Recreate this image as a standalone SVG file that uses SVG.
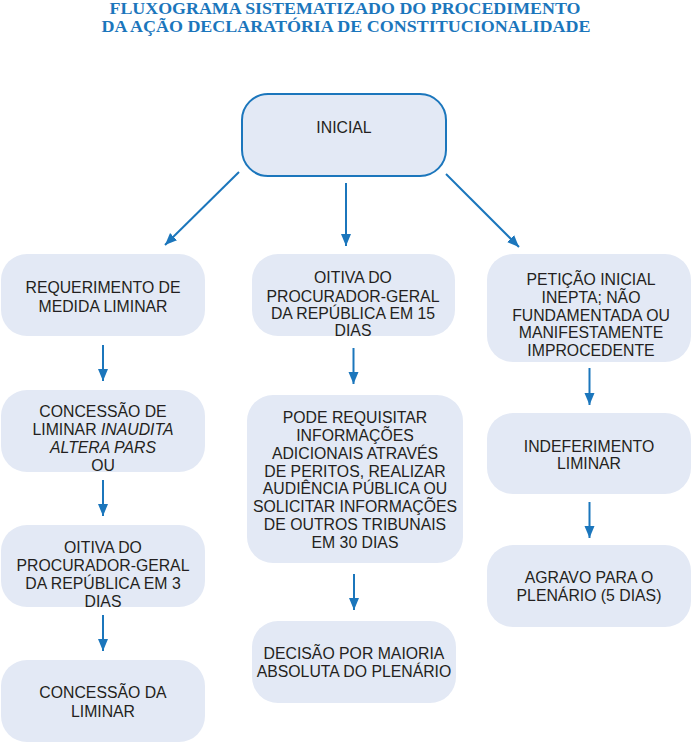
<svg xmlns="http://www.w3.org/2000/svg" width="692" height="742" viewBox="0 0 692 742">
<style>
.title{font-family:"Liberation Serif","Times New Roman",serif;font-weight:bold;font-size:16.5px;fill:#1b76bc;text-anchor:middle}
.box{fill:#e3e9f5}
.start{fill:#e3e9f5;stroke:#1b76bc;stroke-width:2}
.t{font-family:"Liberation Sans",Arial,sans-serif;font-size:15.8px;fill:#231f20;text-anchor:middle}
.c{stroke:#1b76bc;stroke-width:2;fill:none;marker-end:url(#ah)}
</style>
<defs>
<marker id="ah" markerUnits="userSpaceOnUse" markerWidth="12" markerHeight="12" refX="12" refY="5" orient="auto">
<path d="M0,0 L12,5 L0,10 Z" fill="#1b76bc"/>
</marker>
</defs>
<g id="title">
<text class="title" x="345" y="13.5" textLength="471" lengthAdjust="spacingAndGlyphs">FLUXOGRAMA SISTEMATIZADO DO PROCEDIMENTO</text>
<text class="title" x="346" y="32" textLength="489" lengthAdjust="spacingAndGlyphs">DA AÇÃO DECLARATÓRIA DE CONSTITUCIONALIDADE</text>
</g>
<g id="connectors">
<line class="c" x1="239" y1="172" x2="165" y2="245"/>
<line class="c" x1="346" y1="183" x2="346" y2="246"/>
<line class="c" x1="446" y1="174" x2="519" y2="247"/>
<line class="c" x1="103" y1="345" x2="103" y2="381"/>
<line class="c" x1="103" y1="480" x2="103" y2="516"/>
<line class="c" x1="103" y1="615" x2="103" y2="651"/>
<line class="c" x1="353.5" y1="348" x2="353.5" y2="384"/>
<line class="c" x1="354" y1="574" x2="354" y2="610"/>
<line class="c" x1="589.5" y1="368" x2="589.5" y2="405"/>
<line class="c" x1="589.5" y1="502" x2="589.5" y2="538"/>
</g>
<g id="n-inicial">
<rect class="start" x="242" y="94" width="204" height="82" rx="26"/>
<text class="t" x="344" y="133">INICIAL</text>
</g>
<g id="n-requerimento">
<rect class="box" x="1" y="254" width="204" height="82" rx="26"/>
<text class="t" x="103" y="293">REQUERIMENTO DE</text>
<text class="t" x="103" y="311.5">MEDIDA LIMINAR</text>
</g>
<g id="n-concessao-inaudita">
<rect class="box" x="1" y="390" width="204" height="82" rx="26"/>
<text class="t" x="103" y="416.5">CONCESSÃO DE</text>
<text class="t" x="103" y="435">LIMINAR <tspan font-style="italic">INAUDITA</tspan></text>
<text class="t" x="103" y="453" font-style="italic">ALTERA PARS</text>
<text class="t" x="103" y="470.5">OU</text>
</g>
<g id="n-oitiva-3">
<rect class="box" x="1" y="525" width="204" height="82" rx="26"/>
<text class="t" x="103" y="552.5">OITIVA DO</text>
<text class="t" x="103" y="571">PROCURADOR-GERAL</text>
<text class="t" x="103" y="589">DA REPÚBLICA EM 3</text>
<text class="t" x="103" y="606.5">DIAS</text>
</g>
<g id="n-concessao-liminar">
<rect class="box" x="1" y="660" width="204" height="82" rx="26"/>
<text class="t" x="103" y="698">CONCESSÃO DA</text>
<text class="t" x="103" y="716.5">LIMINAR</text>
</g>
<g id="n-oitiva-15">
<rect class="box" x="252" y="254" width="203" height="82" rx="26"/>
<text class="t" x="353" y="283">OITIVA DO</text>
<text class="t" x="353" y="301.5">PROCURADOR-GERAL</text>
<text class="t" x="353" y="319">DA REPÚBLICA EM 15</text>
<text class="t" x="353" y="336">DIAS</text>
</g>
<g id="n-pode-requisitar">
<rect class="box" x="247" y="395" width="216" height="168" rx="26"/>
<text class="t" x="355" y="423">PODE REQUISITAR</text>
<text class="t" x="355" y="441">INFORMAÇÕES</text>
<text class="t" x="355" y="458.5">ADICIONAIS ATRAVÉS</text>
<text class="t" x="355" y="476.5">DE PERITOS, REALIZAR</text>
<text class="t" x="355" y="494">AUDIÊNCIA PÚBLICA OU</text>
<text class="t" x="355" y="511.5">SOLICITAR INFORMAÇÕES</text>
<text class="t" x="355" y="529.5">DE OUTROS TRIBUNAIS</text>
<text class="t" x="355" y="547.5">EM 30 DIAS</text>
</g>
<g id="n-decisao">
<rect class="box" x="252" y="621" width="204" height="82" rx="26"/>
<text class="t" x="354" y="659">DECISÃO POR MAIORIA</text>
<text class="t" x="354" y="677">ABSOLUTA DO PLENÁRIO</text>
</g>
<g id="n-peticao">
<rect class="box" x="487" y="254" width="204" height="108" rx="26"/>
<text class="t" x="591" y="284.5">PETIÇÃO INICIAL</text>
<text class="t" x="591" y="302.5">INEPTA; NÃO</text>
<text class="t" x="591" y="320.5">FUNDAMENTADA OU</text>
<text class="t" x="591" y="338">MANIFESTAMENTE</text>
<text class="t" x="591" y="356">IMPROCEDENTE</text>
</g>
<g id="n-indeferimento">
<rect class="box" x="487" y="413" width="204" height="81" rx="26"/>
<text class="t" x="589" y="451.5">INDEFERIMENTO</text>
<text class="t" x="589" y="469">LIMINAR</text>
</g>
<g id="n-agravo">
<rect class="box" x="487" y="545" width="204" height="82" rx="26"/>
<text class="t" x="589" y="583">AGRAVO PARA O</text>
<text class="t" x="589" y="600.5">PLENÁRIO (5 DIAS)</text>
</g>
</svg>
